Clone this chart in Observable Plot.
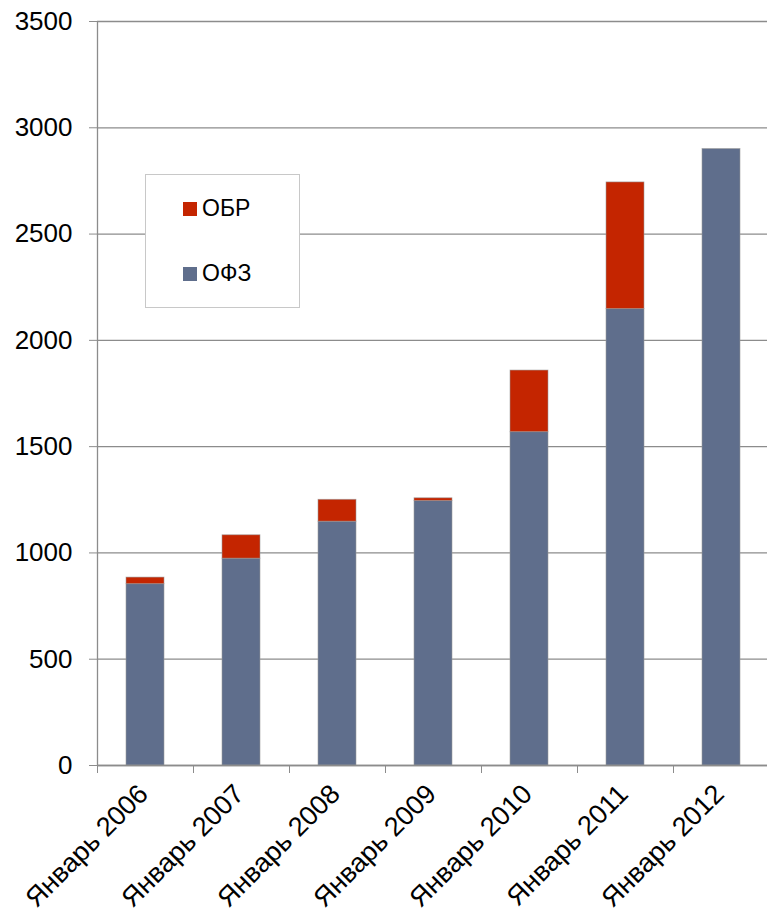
<!DOCTYPE html>
<html><head><meta charset="utf-8">
<script src="https://cdn.jsdelivr.net/npm/d3@7"></script>
<script src="https://cdn.jsdelivr.net/npm/@observablehq/plot@0.6"></script>
<style>
body{margin:0;background:#fff;font-family:"Liberation Sans",Arial,sans-serif;}
#wrap{position:relative;width:767px;height:915px;overflow:hidden;}
.legend{position:absolute;left:145px;top:174px;width:155px;height:134px;border:1px solid #c8c8c8;background:#fff;box-sizing:border-box;}
.sw{position:absolute;width:14px;height:14px;}
.lt{position:absolute;font-size:23px;line-height:23px;color:#000;white-space:nowrap;}
</style>
</head><body>
<div id="wrap"></div>
<script>
const categories = ["Январь 2006","Январь 2007","Январь 2008","Январь 2009","Январь 2010","Январь 2011","Январь 2012"];
const ofz = [853, 973, 1147, 1244, 1568, 2147, 2900];
const obr = [31, 110, 103, 13, 290, 596, 0];
const series = ["ОФЗ","ОБР"];
const colors = ["#5F6E8C","#C42500"];
const yTicks = [0,500,1000,1500,2000,2500,3000,3500];

const data = categories.flatMap((c,i)=>[{cat:c,s:series[0],v:ofz[i]},{cat:c,s:series[1],v:obr[i]}]);
const W=767, mL=97, mR=-2;
const step=(W-mL-mR)/categories.length;

const chart = Plot.plot({
  width:W, height:915, marginTop:21, marginBottom:150, marginLeft:mL, marginRight:mR,
  style:{fontFamily:"'Liberation Sans', Arial, sans-serif", color:"#000", background:"#fff", overflow:"visible"},
  x:{domain:categories, paddingInner:0.6, paddingOuter:0.3, label:null},
  y:{domain:[0,3500], label:null},
  color:{domain:series, range:colors},
  marks:[
    Plot.gridY(yTicks,{stroke:"#8c8c8c", strokeOpacity:1, strokeWidth:1.3}),
    Plot.barY(data,{x:"cat", y:"v", fill:"s", stroke:"#9a9a9a", strokeWidth:0.8, strokeOpacity:0.7}),
    Plot.axisY(yTicks,{tickSize:8, tickPadding:17, fontSize:26, stroke:"#8c8c8c", label:null, tickFormat:d=>String(d)}),
    Plot.ruleX([categories[0]],{dx:-step/2, stroke:"#8c8c8c", strokeWidth:1.3}),
    Plot.ruleY([0],{stroke:"#8c8c8c", strokeWidth:1.3}),
    Plot.axisX({tickSize:8, tickFormat:()=>"", dx:-step/2, stroke:"#8c8c8c", label:null}),
    Plot.axisX({tickSize:0, tickRotate:-45, tickPadding:24, fontSize:27, dx:-2, label:null})
  ]
});
const wrap=document.getElementById("wrap");
wrap.appendChild(chart);

const lg=document.createElement("div");
lg.className="legend";
wrap.appendChild(lg);
const items=[{s:series[1],c:colors[1],sy:202,ty:197},{s:series[0],c:colors[0],sy:267,ty:262}];
for(const it of items){
  const sw=document.createElement("div");sw.className="sw";
  sw.style.left="183px";sw.style.top=it.sy+"px";sw.style.background=it.c;wrap.appendChild(sw);
  const t=document.createElement("div");t.className="lt";t.textContent=it.s;
  t.style.left="202px";t.style.top=it.ty+"px";wrap.appendChild(t);
}
</script>
</body></html>
